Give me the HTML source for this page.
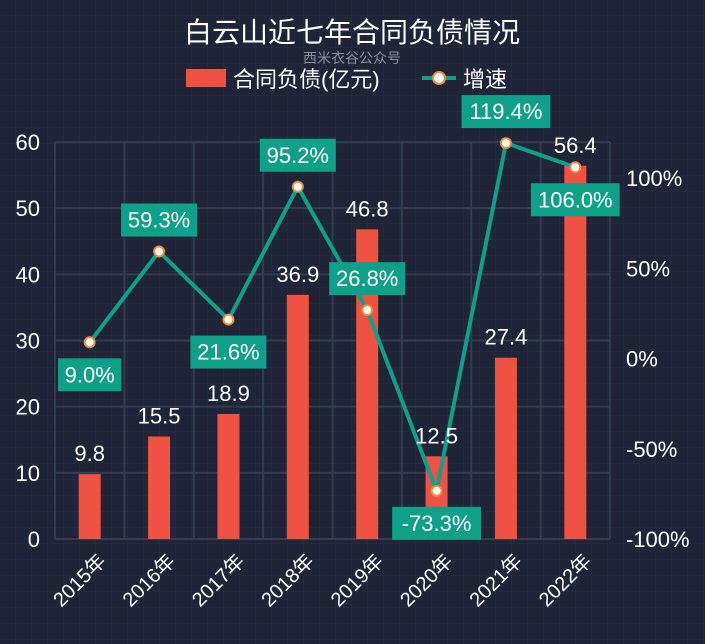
<!DOCTYPE html>
<html><head><meta charset="utf-8"><style>
body{margin:0;background:#1f2436;}
svg{display:block;font-family:"Liberation Sans","Noto Sans CJK SC",sans-serif;}
</style></head><body>
<svg id="c" width="705" height="644">
<defs><pattern id="g" width="16" height="16" patternUnits="userSpaceOnUse"><path d="M16 0V16H0" fill="none" stroke="#262c3f" stroke-width="1.5"/></pattern></defs>
<rect width="705" height="644" fill="#1f2436"/>
<rect width="705" height="644" fill="url(#g)"/>
<text x="352" y="42" fill="#fff" font-size="28" text-anchor="middle">白云山近七年合同负债情况</text>
<text x="352" y="63" fill="#8a8f9c" font-size="14" text-anchor="middle">西米衣谷公众号</text>
<g><rect x="186" y="69" width="40" height="18" fill="#ef5143"/><text x="233" y="87" fill="#fff" font-size="22">合同负债(亿元)</text></g>
<g><line x1="422" y1="78" x2="456" y2="78" stroke="#0fa08a" stroke-width="4"/><circle cx="439" cy="78" r="6" fill="#fff" stroke="#f08a3c" stroke-width="2"/><text x="463" y="87" fill="#fff" font-size="22">增速</text></g>
<g id="grid"></g><g id="bars"></g><g id="line"></g><g id="labels"></g>
</svg>
<script>
const categories=["2015年","2016年","2017年","2018年","2019年","2020年","2021年","2022年"];
const debt=[9.8,15.5,18.9,36.9,46.8,12.5,27.4,56.4];
const growth=[9.0,59.3,21.6,95.2,26.8,-73.3,119.4,106.0];
const growthLabelSide=[1,-1,1,-1,-1,1,-1,1];
const leftTicks=[0,10,20,30,40,50,60];
const rightTicks=[-100,-50,0,50,100];
const NS="http://www.w3.org/2000/svg";
const X0=55,X1=610,Y0=539,Y1=142;
const bw=(X1-X0)/categories.length;
const xc=i=>X0+bw*(i+0.5);
const yL=v=>Y0-(v/60)*(Y0-Y1);
const yR=v=>Y0-((v+100)/220)*(Y0-Y1);
function el(t,a,p){const e=document.createElementNS(NS,t);for(const k in a)e.setAttribute(k,a[k]);p.appendChild(e);return e;}
const grid=document.getElementById('grid'),bars=document.getElementById('bars'),line=document.getElementById('line'),labels=document.getElementById('labels');
leftTicks.forEach(v=>{
  const l=el('line',{x1:X0,x2:X1,y1:yL(v),y2:yL(v),stroke:'#343c50','stroke-width':2},grid);
  
  
  const t=el('text',{x:40,y:yL(v)+8,fill:'#fff','font-size':22,'text-anchor':'end'},grid);t.textContent=v;
  
  
});
rightTicks.forEach(v=>{
  const t=el('text',{x:626,y:yR(v)+8,fill:'#fff','font-size':22},grid);t.textContent=v+'%';
  
  
});
for(let i=0;i<=categories.length;i++){
  const x=X0+bw*i;
  const l=el('line',{x1:x,x2:x,y1:Y1,y2:Y0,stroke:'#343c50','stroke-width':2},grid);
  
  
}
categories.forEach((c,i)=>{
  const x=xc(i);
  const t=el('text',{x:x+6,y:Y0+12,fill:'#fff','font-size':20,'text-anchor':'end',transform:`rotate(-45 ${x+6} ${Y0+12})`,dy:'0.8em'},grid);t.textContent=c;
  
  
  const b=el('rect',{x:x-11,y:yL(debt[i]),width:22,height:Y0-yL(debt[i]),fill:'#ef5143'},bars);
  
  
  const bt=el('text',{x:x,y:yL(debt[i])-13,fill:'#fff','font-size':22,'text-anchor':'middle'},labels);bt.textContent=debt[i].toFixed(1);
  
  
});
const pts=growth.map((g,i)=>xc(i)+','+yR(g)).join(' ');
const pl=el('polyline',{points:pts,fill:'none',stroke:'#0fa08a','stroke-width':4},line);


growth.forEach((g,i)=>{
  const p=el('circle',{cx:xc(i),cy:yR(g),r:5,fill:'#fff',stroke:'#f08a3c','stroke-width':2},line);
  
  
  const cy=yR(g)+growthLabelSide[i]*32;
  const txt=g.toFixed(1)+'%';
  const w=txt.length*12.8+12;
  const r=el('rect',{x:xc(i)-w/2,y:cy-16,width:w,height:33,fill:'#0fa08a'},labels);
  
  
  const t=el('text',{x:xc(i),y:cy+8,fill:'#fff','font-size':22,'text-anchor':'middle'},labels);t.textContent=txt;
  
  
});
</script>
</body></html>
